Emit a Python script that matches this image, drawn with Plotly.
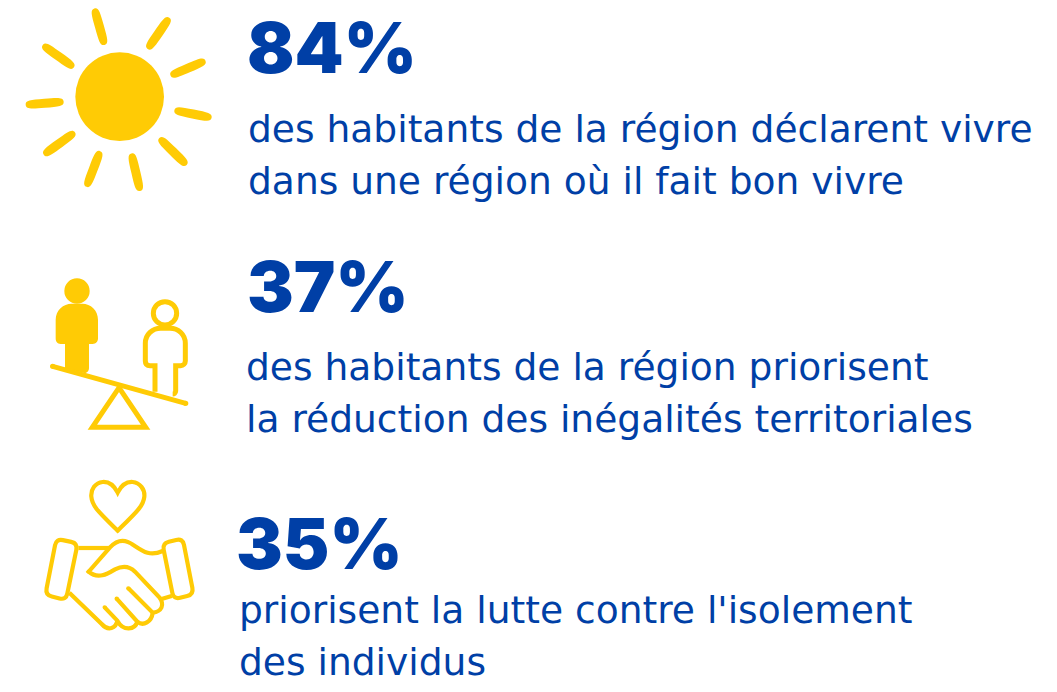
import re
import math
import plotly.graph_objects as go

percent_labels = ["84%", "37%", "35%"]
caption_lines = [
    "des habitants de la région déclarent vivre",
    "dans une région où il fait bon vivre",
    "des habitants de la région priorisent",
    "la réduction des inégalités territoriales",
    "priorisent la lutte contre l'isolement",
    "des individus",
]

BLUE = "#003fa6"
YELLOW = "#ffcb05"
W, H = 1057, 692

percent_pos = [(245, 47), (245, 286), (234, 543)]
caption_pos = [(246, 129), (246, 181), (244, 367), (244, 419), (237, 610), (237, 662)]
PCT_SIZE = 70
CAP_SIZE = 37.6
CAP_FONT = "DejaVu Sans"

shapes = []


def tf(path, ox, oy):
    nums = iter(re.findall(r"[A-Z]|-?\d+\.?\d*", path))
    out = []
    for t in nums:
        if t.isalpha():
            out.append(t)
        else:
            out.append(f"{ox + float(t)/3:.2f},{oy + float(next(nums))/3:.2f}")
    return " ".join(out)


def add_path(path, ox, oy, fill=None, lw=0):
    shapes.append(dict(
        type="path", path=tf(path, ox, oy), xref="x", yref="y",
        fillcolor=fill or "rgba(0,0,0,0)",
        line=dict(color=YELLOW, width=lw),
    ))


def dot(x, y, r, ox, oy):
    shapes.append(dict(type="circle", xref="x", yref="y",
                       x0=ox + (x - r)/3, x1=ox + (x + r)/3,
                       y0=oy + (y - r)/3, y1=oy + (y + r)/3,
                       fillcolor=YELLOW, line=dict(width=0)))


def rounded(points, r):
    n = len(points)
    parts = []
    for i in range(n):
        p0, p1, p2 = points[i-1], points[i], points[(i+1) % n]
        d1 = math.dist(p0, p1)
        d2 = math.dist(p1, p2)
        a = (p1[0] + (p0[0]-p1[0])*r/d1, p1[1] + (p0[1]-p1[1])*r/d1)
        b = (p1[0] + (p2[0]-p1[0])*r/d2, p1[1] + (p2[1]-p1[1])*r/d2)
        parts.append(("M" if i == 0 else "L") + f"{a[0]:.1f},{a[1]:.1f}")
        parts.append(f"Q{p1[0]:.1f},{p1[1]:.1f} {b[0]:.1f},{b[1]:.1f}")
    return " ".join(parts) + " Z"


def ray(p1, p2, w):
    L = math.dist(p1, p2)
    dx, dy = (p2[0]-p1[0])/L, (p2[1]-p1[1])/L
    nx, ny = -dy*w/2, dx*w/2
    m = (p1[0] + dx*L*0.5, p1[1] + dy*L*0.5)
    k = L*0.42
    e = 7
    s = (p1[0]-dx*e, p1[1]-dy*e)
    t = (p2[0]+dx*e, p2[1]+dy*e)
    def seg(a, b, c, d):
        return f"C{a[0]:.1f},{a[1]:.1f} {b[0]:.1f},{b[1]:.1f} {c:.1f},{d:.1f}"
    return (f"M{s[0]:.1f},{s[1]:.1f} "
            + seg((s[0]+nx, s[1]+ny), (m[0]-dx*k+nx, m[1]-dy*k+ny), m[0]+nx, m[1]+ny) + " "
            + seg((m[0]+dx*k+nx, m[1]+dy*k+ny), (t[0]+nx, t[1]+ny), t[0], t[1]) + " "
            + seg((t[0]-nx, t[1]-ny), (m[0]+dx*k-nx, m[1]+dy*k-ny), m[0]-nx, m[1]-ny) + " "
            + seg((m[0]-dx*k-nx, m[1]-dy*k-ny), (s[0]-nx, s[1]-ny), s[0], s[1]) + " Z")


# ---- sun icon
OX, OY = 10, 0
dot(329, 290, 133, OX, OY)
sun_rays = [((255, 32), (282, 128)), ((474, 59), (417, 141)), ((580, 185), (488, 224)),
            ((598, 352), (500, 332)), ((525, 490), (453, 419)), ((389, 566), (366, 467)),
            ((232, 554), (268, 460)), ((107, 460), (189, 401)), ((54, 314), (154, 306)),
            ((104, 139), (186, 198))]
for a, b in sun_rays:
    add_path(ray(a, b, 27), OX, OY, fill=YELLOW)

# ---- balance icon
OX, OY = 30, 265
dot(141, 78, 38, OX, OY)
add_path("M105,237 L92,237 C82,237 77,230 77,220 L77,165 C77,135 100,116 125,116 L157,116 "
         "C182,116 204,135 204,165 L204,220 C204,230 198,237 188,237 L177,237 L177,310 "
         "C177,318 172,323 165,325 L105,310 Z", OX, OY, fill=YELLOW)
add_path("M68,304 L467,415", OX, OY, lw=5)
dot(68, 304, 8, OX, OY)
dot(467, 415, 8, OX, OY)
add_path("M267,368 L347,487 L187,487 Z", OX, OY, lw=5)
shapes.append(dict(type="circle", xref="x", yref="y",
                   x0=OX + (405-35)/3, x1=OX + (405+35)/3, y0=OY + (145-35)/3, y1=OY + (145+35)/3,
                   line=dict(color=YELLOW, width=5)))
add_path("M375,380 L375,302 L360,302 C350,302 346,296 346,288 L346,235 C346,208 368,190 392,190 "
         "L420,190 C445,190 466,208 466,235 L466,288 C466,296 460,302 452,302 L437,302 L437,378 "
         "C437,384 432,387 428,387", OX, OY, lw=5)

# ---- handshake icon
OX, OY = 30, 470
add_path("M263,68 C250,42 232,35 218,36 C196,38 182,58 184,80 C186,108 205,125 263,182 "
         "C321,125 340,108 343,80 C345,58 330,38 308,36 C294,35 276,42 263,68 Z", OX, OY, lw=4.2)
add_path(rounded([(79, 206), (143, 220), (108, 390), (46, 375)], 20), OX, OY, lw=4.2)
add_path(rounded([(397, 220), (458, 205), (491, 373), (431, 388)], 20), OX, OY, lw=4.2)
add_path("M145,234 L240,234", OX, OY, lw=4.2)
add_path("M398,243 C360,260 340,245 310,225 C290,210 265,205 240,232 L176,305 "
         "C205,330 235,310 255,298 C280,285 300,290 315,305 L388,382 "
         "C405,405 395,425 368,428 L295,355", OX, OY, lw=4.2)
add_path("M368,428 C365,455 340,470 322,455 L260,386", OX, OY, lw=4.2)
add_path("M322,455 C315,480 280,485 262,452 L224,412", OX, OY, lw=4.2)
add_path("M262,452 C258,475 235,485 215,462 L118,368", OX, OY, lw=4.2)
add_path("M392,388 L425,378", OX, OY, lw=4.2)
for p in [(295, 355), (260, 386), (224, 412), (176, 305)]:
    dot(p[0], p[1], 6.5, OX, OY)

annotations = []
for label, (x, y) in zip(percent_labels, percent_pos):
    annotations.append(dict(
        x=x, y=y, xref="x", yref="y", text=label, showarrow=False,
        xanchor="left", yanchor="middle",
        font=dict(family="Inter", size=PCT_SIZE, color=BLUE, weight=900),
    ))
for line, (x, y) in zip(caption_lines, caption_pos):
    annotations.append(dict(
        x=x, y=y, xref="x", yref="y", text=line, showarrow=False,
        xanchor="left", yanchor="middle",
        font=dict(family=CAP_FONT, size=CAP_SIZE, color=BLUE),
    ))

fig = go.Figure()
fig.update_layout(
    width=W, height=H, autosize=False,
    margin=dict(l=0, r=0, t=0, b=0),
    paper_bgcolor="white", plot_bgcolor="white",
    xaxis=dict(range=[0, W], visible=False, fixedrange=True),
    yaxis=dict(range=[H, 0], visible=False, fixedrange=True),
    shapes=shapes, annotations=annotations, showlegend=False,
)
fig.write_html("out.html", config={"displayModeBar": False},
               default_width=f"{W}px", default_height=f"{H}px",
               post_script="document.body.style.margin='0';document.documentElement.style.overflow='hidden';")
